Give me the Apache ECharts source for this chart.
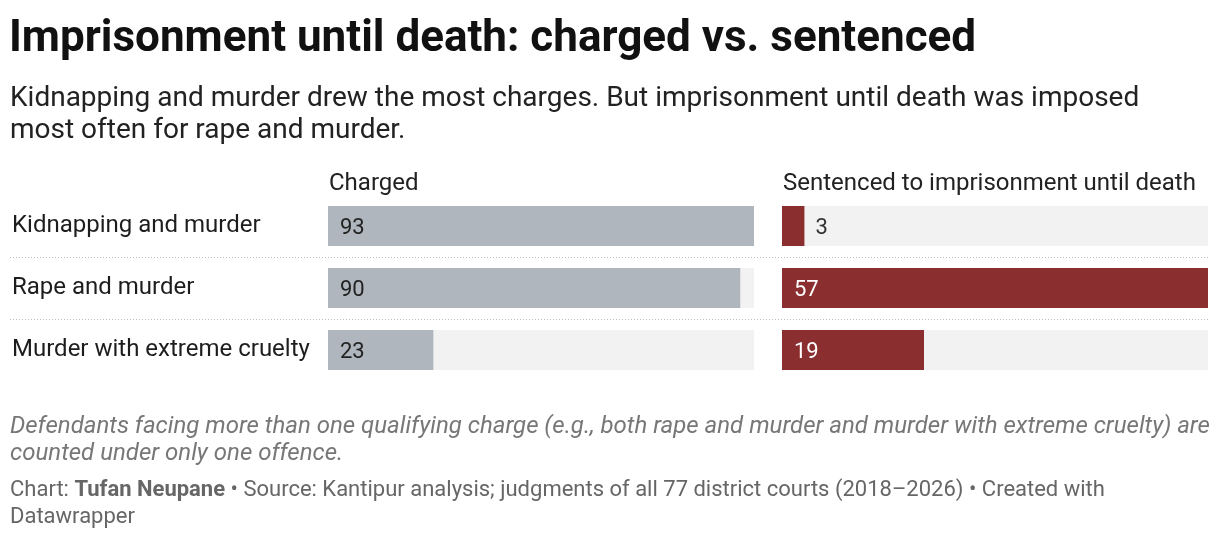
<!DOCTYPE html>
<html>
<head>
<meta charset="utf-8">
<script src="https://cdn.jsdelivr.net/npm/echarts@6/dist/echarts.min.js"></script>
<style>
  html, body { margin: 0; padding: 0; background: #fff; }
  #chart1 { width: 1220px; height: 538px; }
</style>
</head>
<body>
<div id="chart1"></div>
<script>
// data
var categories = ['Kidnapping and murder', 'Rape and murder', 'Murder with extreme cruelty'];
var charged = [93, 90, 23];
var sentenced = [3, 57, 19];
var columnNames = ['Charged', 'Sentenced to imprisonment until death'];

var chart1 = echarts.init(document.getElementById('chart1'));

var FONT = 'Roboto';
var maxCharged = Math.max.apply(null, charged);
var maxSentenced = Math.max.apply(null, sentenced);

// short bars get their label outside
function barData(values, max, insideColor) {
    return values.map(function (v) {
        var inside = v / max > 0.1;
        return {
            value: v,
            label: {
                position: inside ? 'insideLeft' : 'right',
                distance: inside ? 12 : 11,
                color: inside ? insideColor : '#333'
            }
        };
    });
}

var rowBox = { top: 195, height: 186 };

var option1 = {
    animation: false,
    textStyle: { fontFamily: FONT },
    title: [
        {
            text: 'Imprisonment until death: charged vs. sentenced',
            left: 9, top: 16, padding: 0,
            textStyle: { fontFamily: FONT, fontSize: 44, fontWeight: 'bold', color: '#111', lineHeight: 48 }
        },
        {
            text: 'Kidnapping and murder drew the most charges. But imprisonment until death was imposed\nmost often for rape and murder.',
            left: 10, top: 83, padding: 0,
            textStyle: { fontFamily: FONT, fontSize: 28, fontWeight: 'normal', color: '#222', lineHeight: 32 }
        },
        {
            text: columnNames[0],
            left: 329, top: 170, padding: 0,
            textStyle: { fontFamily: FONT, fontSize: 24, fontWeight: 'normal', color: '#222', lineHeight: 28 }
        },
        {
            text: columnNames[1],
            left: 783, top: 170, padding: 0,
            textStyle: { fontFamily: FONT, fontSize: 24, fontWeight: 'normal', color: '#222', lineHeight: 28 }
        },
        {
            text: 'Defendants facing more than one qualifying charge (e.g., both rape and murder and murder with extreme cruelty) are\ncounted under only one offence.',
            left: 10, top: 413, padding: 0,
            textStyle: { fontFamily: FONT, fontSize: 24, fontStyle: 'italic', fontWeight: 'normal', color: '#777', lineHeight: 27 }
        },
        {
            text: '{n|Chart: }{b|Tufan Neupane}{n| \u2022 Source: Kantipur analysis; judgments of all 77 district courts (2018\u20132026) \u2022 Created with}\n{n|Datawrapper}',
            left: 10, top: 477, padding: 0,
            textStyle: {
                fontFamily: FONT, fontSize: 22, fontWeight: 'normal', color: '#666', lineHeight: 27,
                rich: {
                    n: { fontFamily: FONT, fontSize: 22, fontWeight: 'normal', color: '#666', lineHeight: 27 },
                    b: { fontFamily: FONT, fontSize: 22, fontWeight: 'bold', color: '#666', lineHeight: 27 }
                }
            }
        }
    ],
    grid: [
        { left: 328, width: 426, top: rowBox.top, height: rowBox.height },
        { left: 782, width: 426, top: rowBox.top, height: rowBox.height },
        { left: 10, right: 12, top: rowBox.top, height: rowBox.height }
    ],
    xAxis: [
        { gridIndex: 0, type: 'value', min: 0, max: maxCharged, show: false },
        { gridIndex: 1, type: 'value', min: 0, max: maxSentenced, show: false },
        { gridIndex: 2, type: 'value', min: 0, max: 1, show: false }
    ],
    yAxis: [
        {
            gridIndex: 0, type: 'category', data: categories, inverse: true,
            axisLine: { show: false }, axisTick: { show: false }, splitLine: { show: false },
            axisLabel: {
                align: 'left', margin: 316, padding: [4, 0, 0, 0],
                fontFamily: FONT, fontSize: 24, color: '#1d1d1d'
            }
        },
        {
            gridIndex: 1, type: 'category', data: categories, inverse: true,
            axisLine: { show: false }, axisTick: { show: false }, splitLine: { show: false },
            axisLabel: { show: false }
        },
        {
            gridIndex: 2, type: 'category', data: categories, inverse: true,
            axisLine: { show: false }, axisTick: { show: false }, axisLabel: { show: false },
            splitLine: {
                show: true, showMinLine: false, showMaxLine: false,
                lineStyle: { color: '#bdbdbd', width: 1, type: [1, 2] }
            }
        }
    ],
    series: [
        {
            type: 'bar', xAxisIndex: 0, yAxisIndex: 0,
            barWidth: 40,
            data: barData(charged, maxCharged, '#222'),
            itemStyle: { color: '#b0b6bd' },
            showBackground: true,
            backgroundStyle: { color: '#f2f2f2' },
            label: { show: true, fontFamily: FONT, fontSize: 22, offset: [0, 2] }
        },
        {
            type: 'bar', xAxisIndex: 1, yAxisIndex: 1,
            barWidth: 40,
            data: barData(sentenced, maxSentenced, '#fff'),
            itemStyle: { color: '#8b2e2f' },
            showBackground: true,
            backgroundStyle: { color: '#f2f2f2' },
            label: { show: true, fontFamily: FONT, fontSize: 22, offset: [0, 2] }
        }
    ]
};

chart1.setOption(option1);

window.onresize = function () {
    chart1.resize();
};
</script>
</body>
</html>
